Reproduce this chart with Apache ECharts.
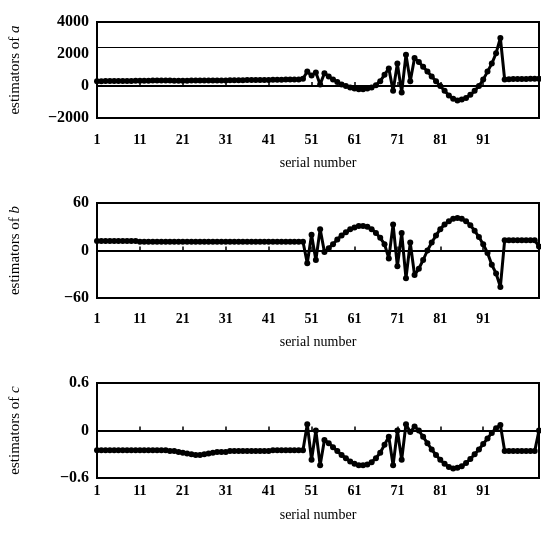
<!DOCTYPE html>
<html>
<head>
<meta charset="utf-8">
<script src="https://cdn.jsdelivr.net/npm/echarts@6/dist/echarts.min.js"></script>
<style>
html, body { margin: 0; padding: 0; background: #fff; }
#chart { width: 541px; height: 534px; }
</style>
</head>
<body>
<div id="chart"></div>
<script>
// serial numbers 1..104 along the x axis
const serial = []
for (let i = 1; i <= 104; i++) serial.push(String(i))

// estimators of a
const estA = [
  300, 300, 310, 310, 310, 320, 320, 320, 320, 330,
  330, 330, 330, 340, 340, 340, 340, 340, 330, 330,
  330, 330, 340, 340, 340, 350, 350, 350, 350, 350,
  350, 360, 360, 360, 360, 370, 370, 370, 380, 380,
  380, 390, 390, 390, 400, 400, 400, 400,
  450, 900, 650, 850, 100, 800, 600, 400, 250, 100, 0, -100,
  -150, -200, -200, -150, -100, 50, 300, 700, 1100, -300,
  1400, -400, 1950, 300, 1750, 1500, 1200, 900, 600, 300,
  0, -300, -600, -800, -900, -850, -750, -550, -300, 0,
  400, 900, 1400, 2050, 3000, 400,
  420, 430, 430, 440, 440, 450, 460, 450
]

// estimators of b
const estB = [
  12, 12, 12, 12, 12, 12, 12, 12, 12, 12,
  11, 11, 11, 11, 11, 11, 11, 11, 11, 11,
  11, 11, 11, 11, 11, 11, 11, 11, 11, 11,
  11, 11, 11, 11, 11, 11, 11, 11, 11, 11,
  11, 11, 11, 11, 11, 11, 11, 11,
  11, -16, 20, -12, 27, -2, 3, 8, 14, 19, 23, 27,
  29, 31, 31, 30, 27, 22, 16, 8, -10, 33,
  -20, 22, -35, 10, -31, -23, -12, 0, 10, 19,
  27, 33, 37, 40, 41, 40, 37, 32, 25, 17,
  8, -3, -18, -29, -46, 13,
  13, 13, 13, 13, 13, 13, 13, 5
]

// estimators of c
const estC = [
  -0.25, -0.25, -0.25, -0.25, -0.25, -0.25, -0.25, -0.25, -0.25, -0.25,
  -0.25, -0.25, -0.25, -0.25, -0.25, -0.25, -0.25, -0.26, -0.26, -0.27,
  -0.28, -0.29, -0.3, -0.31, -0.31, -0.3, -0.29, -0.28, -0.27, -0.27,
  -0.27, -0.26, -0.26, -0.26, -0.26, -0.26, -0.26, -0.26, -0.26, -0.26,
  -0.26, -0.25, -0.25, -0.25, -0.25, -0.25, -0.25, -0.25,
  -0.25, 0.08, -0.37, 0, -0.44, -0.12, -0.16, -0.21, -0.26, -0.31, -0.35, -0.39,
  -0.42, -0.44, -0.44, -0.43, -0.4, -0.35, -0.28, -0.18, -0.08, -0.44,
  0, -0.37, 0.08, -0.02, 0.05, 0, -0.08, -0.16, -0.24, -0.31,
  -0.37, -0.42, -0.46, -0.48, -0.47, -0.45, -0.41, -0.36, -0.3, -0.24,
  -0.17, -0.1, -0.03, 0.03, 0.07, -0.26,
  -0.26, -0.26, -0.26, -0.26, -0.26, -0.26, -0.26, 0
]

// horizontal reference lines in each panel
const refA = [0, 2400]
const refB = [0]
const refC = [0]

const font = 'Liberation Serif'

const panels = [
  { letter: 'a', data: estA, refs: refA, min: -2000, max: 4000, step: 2000, top: 22, height: 96, labelGap: 15, nameGap: 38 },
  { letter: 'b', data: estB, refs: refB, min: -60, max: 60, step: 60, top: 203, height: 95, labelGap: 14, nameGap: 37 },
  { letter: 'c', data: estC, refs: refC, min: -0.6, max: 0.6, step: 0.6, top: 383, height: 95, labelGap: 6, nameGap: 30 }
]

function showTick (i) {
  return i % 10 === 0 && i <= 90
}

const grid = []
const xAxis = []
const yAxis = []
const series = []

panels.forEach((p, k) => {
  grid.push({
    left: 96, right: 2, top: p.top, height: p.height,
    show: true, borderColor: '#000', borderWidth: 2, backgroundColor: 'transparent'
  })
  xAxis.push({
    type: 'category',
    gridIndex: k,
    data: serial,
    boundaryGap: false,
    name: 'serial number',
    nameLocation: 'middle',
    nameGap: p.nameGap,
    nameTextStyle: { fontFamily: font, fontSize: 14, color: '#000' },
    axisLine: { show: true, lineStyle: { color: '#000', width: 2 } },
    axisTick: { show: true, inside: true, length: 4, interval: showTick, lineStyle: { color: '#000', width: 1.5 } },
    axisLabel: {
      interval: showTick,
      margin: p.labelGap,
      fontFamily: font,
      fontSize: 14,
      fontWeight: 'bold',
      color: '#000'
    },
    splitLine: { show: false }
  })
  yAxis.push({
    type: 'value',
    gridIndex: k,
    min: p.min,
    max: p.max,
    interval: p.step,
    name: '{n|estimators of }{i|' + p.letter + '}',
    nameLocation: 'middle',
    nameRotate: 90,
    nameGap: 74,
    nameTextStyle: {
      rich: {
        n: { fontFamily: font, fontSize: 15, color: '#000' },
        i: { fontFamily: font, fontSize: 15, fontStyle: 'italic', color: '#000' }
      }
    },
    axisLine: { show: true, lineStyle: { color: '#000', width: 2 } },
    axisTick: { show: false },
    axisLabel: {
      margin: 8,
      fontFamily: font,
      fontSize: 16,
      fontWeight: 'bold',
      color: '#000',
      formatter: v => {
        const r = Math.round(v * 10) / 10
        return r < 0 ? '\u2212' + String(-r) : String(r)
      }
    },
    splitLine: { show: false }
  })
  series.push({
    type: 'line',
    xAxisIndex: k,
    yAxisIndex: k,
    data: p.data,
    symbol: 'circle',
    symbolSize: 6,
    showSymbol: true,
    showAllSymbol: true,
    animation: false,
    lineStyle: { color: '#000', width: 3 },
    itemStyle: { color: '#000' },
    markLine: {
      silent: true,
      symbol: 'none',
      label: { show: false },
      lineStyle: { color: '#000', width: 1.2, type: 'solid' },
      data: p.refs.map(v => ({ yAxis: v }))
    }
  })
})

const myChart = echarts.init(document.getElementById('chart'))
myChart.setOption({
  animation: false,
  backgroundColor: '#fff',
  grid: grid,
  xAxis: xAxis,
  yAxis: yAxis,
  series: series
})
</script>
</body>
</html>
